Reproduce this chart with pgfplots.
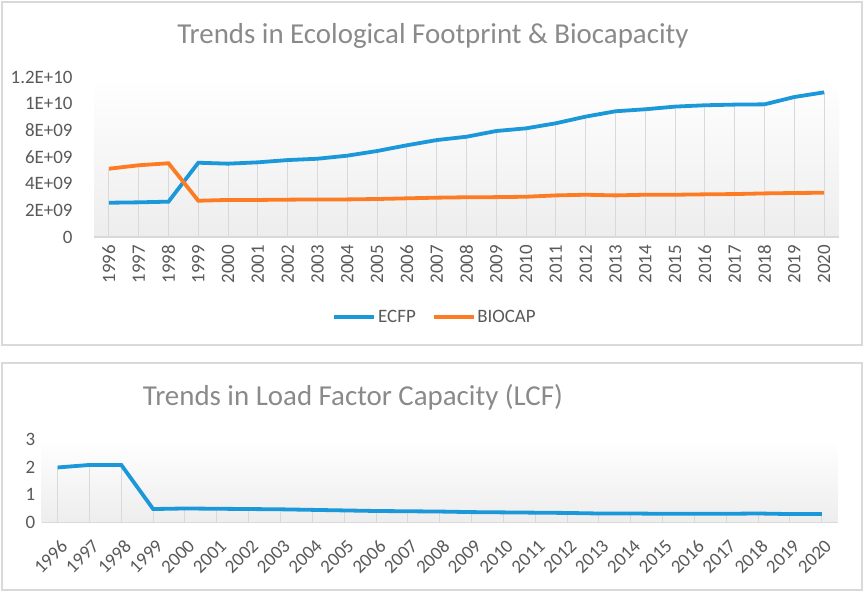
\documentclass[border=0pt]{standalone}
\usepackage{pgfplots}
\usepackage{pgfplotstable}
\pgfplotsset{compat=1.18}
\usepackage{fontspec}
\setmainfont{Carlito}
\definecolor{ecfp}{HTML}{1B98D9}
\definecolor{bio}{HTML}{FD7B23}
\definecolor{txt}{HTML}{595959}
\definecolor{ttl}{HTML}{8A8A8A}
\definecolor{grd}{HTML}{D9D9D9}
\pgfplotstableread{
x ecfp bio mx
0 2.57e9 5.12e9 5.12e9
1 2.60e9 5.38e9 5.38e9
2 2.65e9 5.53e9 5.53e9
3 5.57e9 2.72e9 5.57e9
4 5.50e9 2.78e9 5.50e9
5 5.60e9 2.78e9 5.60e9
6 5.77e9 2.80e9 5.77e9
7 5.87e9 2.82e9 5.87e9
8 6.10e9 2.82e9 6.10e9
9 6.45e9 2.85e9 6.45e9
10 6.88e9 2.90e9 6.88e9
11 7.27e9 2.95e9 7.27e9
12 7.52e9 2.98e9 7.52e9
13 7.95e9 2.99e9 7.95e9
14 8.15e9 3.02e9 8.15e9
15 8.53e9 3.12e9 8.53e9
16 9.03e9 3.17e9 9.03e9
17 9.43e9 3.12e9 9.43e9
18 9.58e9 3.17e9 9.58e9
19 9.78e9 3.17e9 9.78e9
20 9.88e9 3.20e9 9.88e9
21 9.93e9 3.22e9 9.93e9
22 9.95e9 3.27e9 9.95e9
23 10.5e9 3.30e9 10.5e9
24 10.85e9 3.32e9 10.85e9
}\dataA
\pgfplotstableread{
x lcf
0 1.98
1 2.07
2 2.07
3 0.49
4 0.51
5 0.50
6 0.49
7 0.48
8 0.46
9 0.44
10 0.42
11 0.41
12 0.40
13 0.38
14 0.37
15 0.36
16 0.35
17 0.33
18 0.33
19 0.32
20 0.32
21 0.32
22 0.33
23 0.31
24 0.31
}\dataB
\pgfplotsset{
  common/.style={
    scale only axis,
    xmin=-0.5, xmax=24.5, ymin=0,
    xtick={0,...,24},
    xticklabels={1996,1997,1998,1999,2000,2001,2002,2003,2004,2005,2006,2007,2008,2009,2010,2011,2012,2013,2014,2015,2016,2017,2018,2019,2020},
    axis x line*=bottom, axis y line*=left,
    y axis line style={draw=none},
    x axis line style={grd, line width=1.5bp},
    major tick length=0pt,
    ticklabel style={font=\fontsize{19}{22}\selectfont, text=txt},
    scaled y ticks=false,
    axis background/.style={top color=white, bottom color=black!7},
  }
}
\begin{document}
\begin{tikzpicture}
\path (0bp,0bp) rectangle (865bp,-592bp);
\draw[grd, line width=1.2bp] (2bp,-2bp) rectangle (862bp,-345bp);
\draw[grd, line width=1.2bp] (2bp,-363bp) rectangle (862bp,-590bp);
\node[text=ttl, font=\fontsize{29}{34}\selectfont] at (433bp,-36bp) {Trends in Ecological Footprint \& Biocapacity};
\node[text=ttl, font=\fontsize{29}{34}\selectfont] at (353bp,-397bp) {Trends in Load Factor Capacity (LCF)};
\begin{axis}[common,
  at={(94bp,-237bp)}, anchor=south west,
  width=745bp, height=160bp,
  ymax=1.2e10,
  ytick={0,2e9,4e9,6e9,8e9,1e10,1.2e10},
  yticklabels={0,2E+09,4E+09,6E+09,8E+09,1E+10,1.2E+10},
  yticklabel style={xshift=-18bp},
  xticklabel style={rotate=90, anchor=east, inner xsep=8bp},
  legend columns=2,
  legend style={draw=none, fill=none, at={(0.458,-0.5)}, anchor=center,
    font=\fontsize{19}{22}\selectfont, text=txt,
    /tikz/every even column/.append style={column sep=14bp}},
  legend image code/.code={\draw[#1, line width=3.5bp] (0bp,0bp) -- (40bp,0bp);},
]
\addplot[ycomb, grd, line width=1bp, forget plot] table[x=x, y=mx]{\dataA};
\addplot[ecfp, line width=3.8bp] table[x=x, y=ecfp]{\dataA};
\addlegendentry{ECFP}
\addplot[bio, line width=3.8bp] table[x=x, y=bio]{\dataA};
\addlegendentry{BIOCAP}
\end{axis}
\begin{axis}[common,
  at={(41.7bp,-522.7bp)}, anchor=south west,
  width=796bp, height=83.7bp,
  ymax=3, ytick={0,1,2,3}, yticklabels={0,1,2,3},
  yticklabel style={xshift=-3bp},
  xticklabel style={xshift=2bp, yshift=-11bp, rotate=45, anchor=north east},
]
\addplot[ycomb, grd, line width=1bp] table[x=x, y=lcf]{\dataB};
\addplot[ecfp, line width=3.8bp] table[x=x, y=lcf]{\dataB};
\end{axis}
\end{tikzpicture}
\end{document}
